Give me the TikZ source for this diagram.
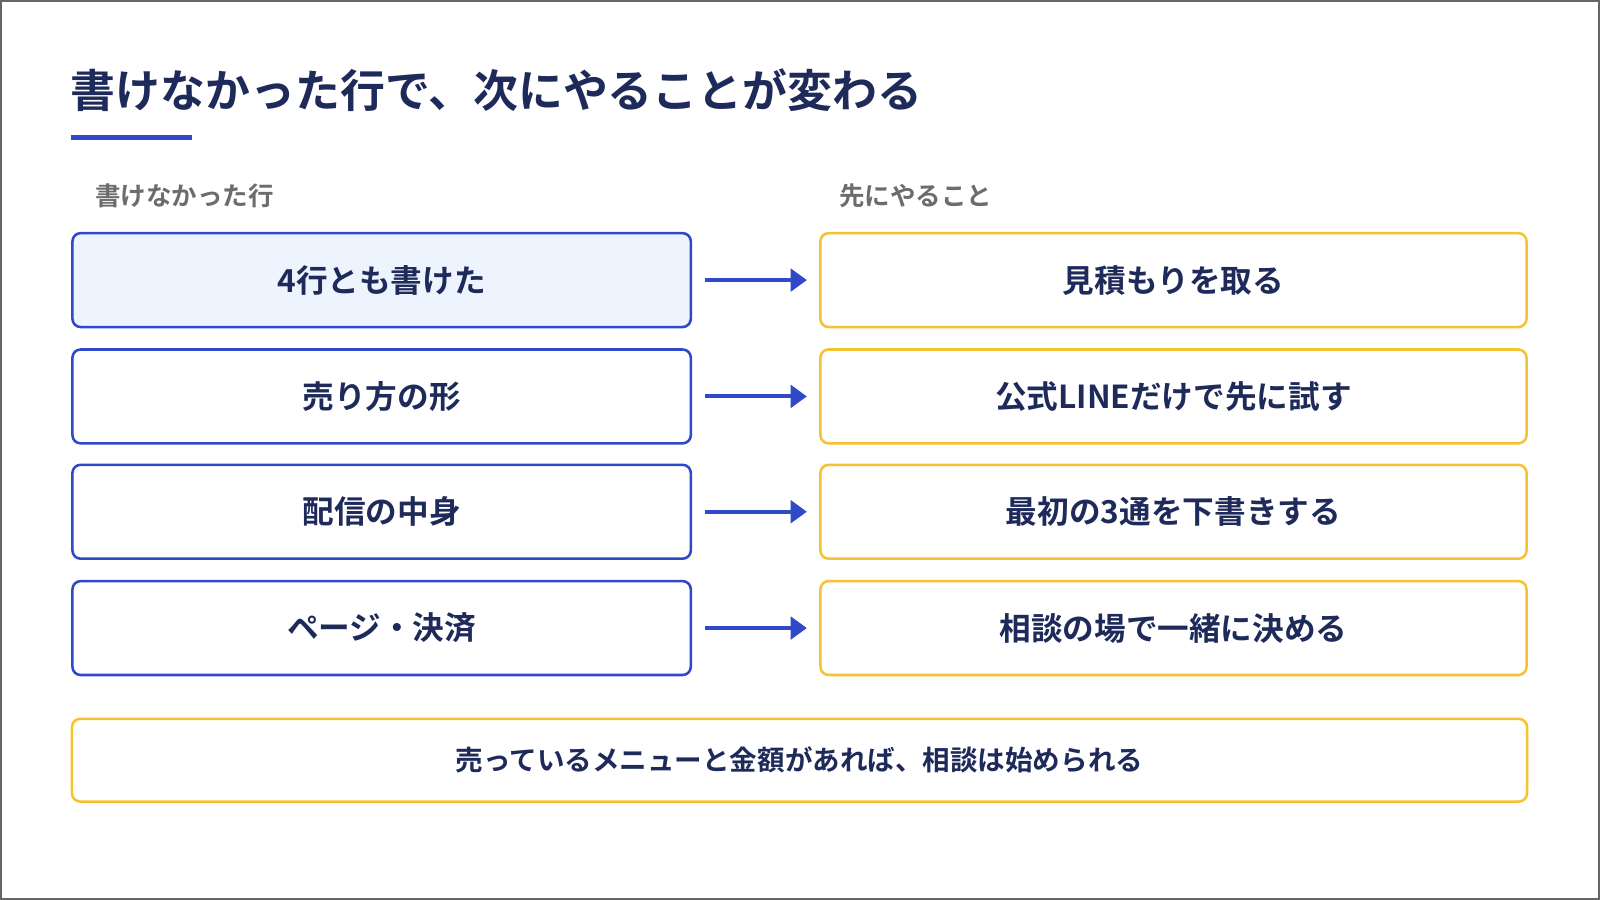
\documentclass[tikz,border=0pt]{standalone}
\usepackage{fontspec}
\setmainfont{Noto Sans CJK JP}[BoldFont={* Bold}]
\usetikzlibrary{arrows.meta}
\definecolor{navy}{HTML}{1E2A5A}
\definecolor{blu}{HTML}{2F49C8}
\definecolor{yel}{HTML}{F7C232}
\definecolor{lb}{HTML}{EEF4FD}
\begin{document}
\begin{tikzpicture}[x=1pt,y=-1pt,
 lbox/.style={draw=blu,line width=2.5pt,rounded corners=8pt,minimum width=606pt,minimum height=92pt,font=\bfseries\fontsize{31}{31}\selectfont,text=navy},
 rbox/.style={draw=yel,line width=2.5pt,rounded corners=8pt,minimum width=692pt,minimum height=92pt,font=\bfseries\fontsize{31}{31}\selectfont,text=navy},
 arr/.style={draw=blu,line width=4pt,-{Triangle[length=16pt,width=22pt]}},
 lab/.style={anchor=west,text=gray!85!black,font=\bfseries\fontsize{25}{25}\selectfont}]
\draw[fill=white,draw=gray!80!black,line width=2pt] (1,1) rectangle (1567,881);
\useasboundingbox (0,0) rectangle (1568,882);
\node[anchor=west,text=navy,font=\bfseries\fontsize{44}{44}\selectfont] (t) at (66,88) {書けなかった行で、次にやることが変わる};
\draw[blu,line width=5pt] (70,135) -- (188,135);
\node[lab] (l1) at (90,192) {書けなかった行};
\node[lab] (l2) at (819,192) {先にやること};
\node[lbox,fill=lb] (a1) at (374,274.5) {4行とも書けた};
\node[lbox] (a2) at (374,388.5) {売り方の形};
\node[lbox] (a3) at (374,501.5) {配信の中身};
\node[lbox] (a4) at (374,615.5) {ページ・決済};
\node[rbox] (b1) at (1150,274.5) {見積もりを取る};
\node[rbox] (b2) at (1150,388.5) {公式LINEだけで先に試す};
\node[rbox] (b3) at (1150,501.5) {最初の3通を下書きする};
\node[rbox] (b4) at (1150,615.5) {相談の場で一緒に決める};
\foreach \i in {1,...,4}{\draw[arr] ([xshift=13pt]a\i.east) -- ([xshift=-12pt]b\i.west);}
\node[draw=yel,line width=2.5pt,rounded corners=8pt,minimum width=1426pt,minimum height=81pt,font=\bfseries\fontsize{27}{27}\selectfont,text=navy] (c) at (783.5,745) {売っているメニューと金額があれば、相談は始められる};
\end{tikzpicture}
\end{document}
